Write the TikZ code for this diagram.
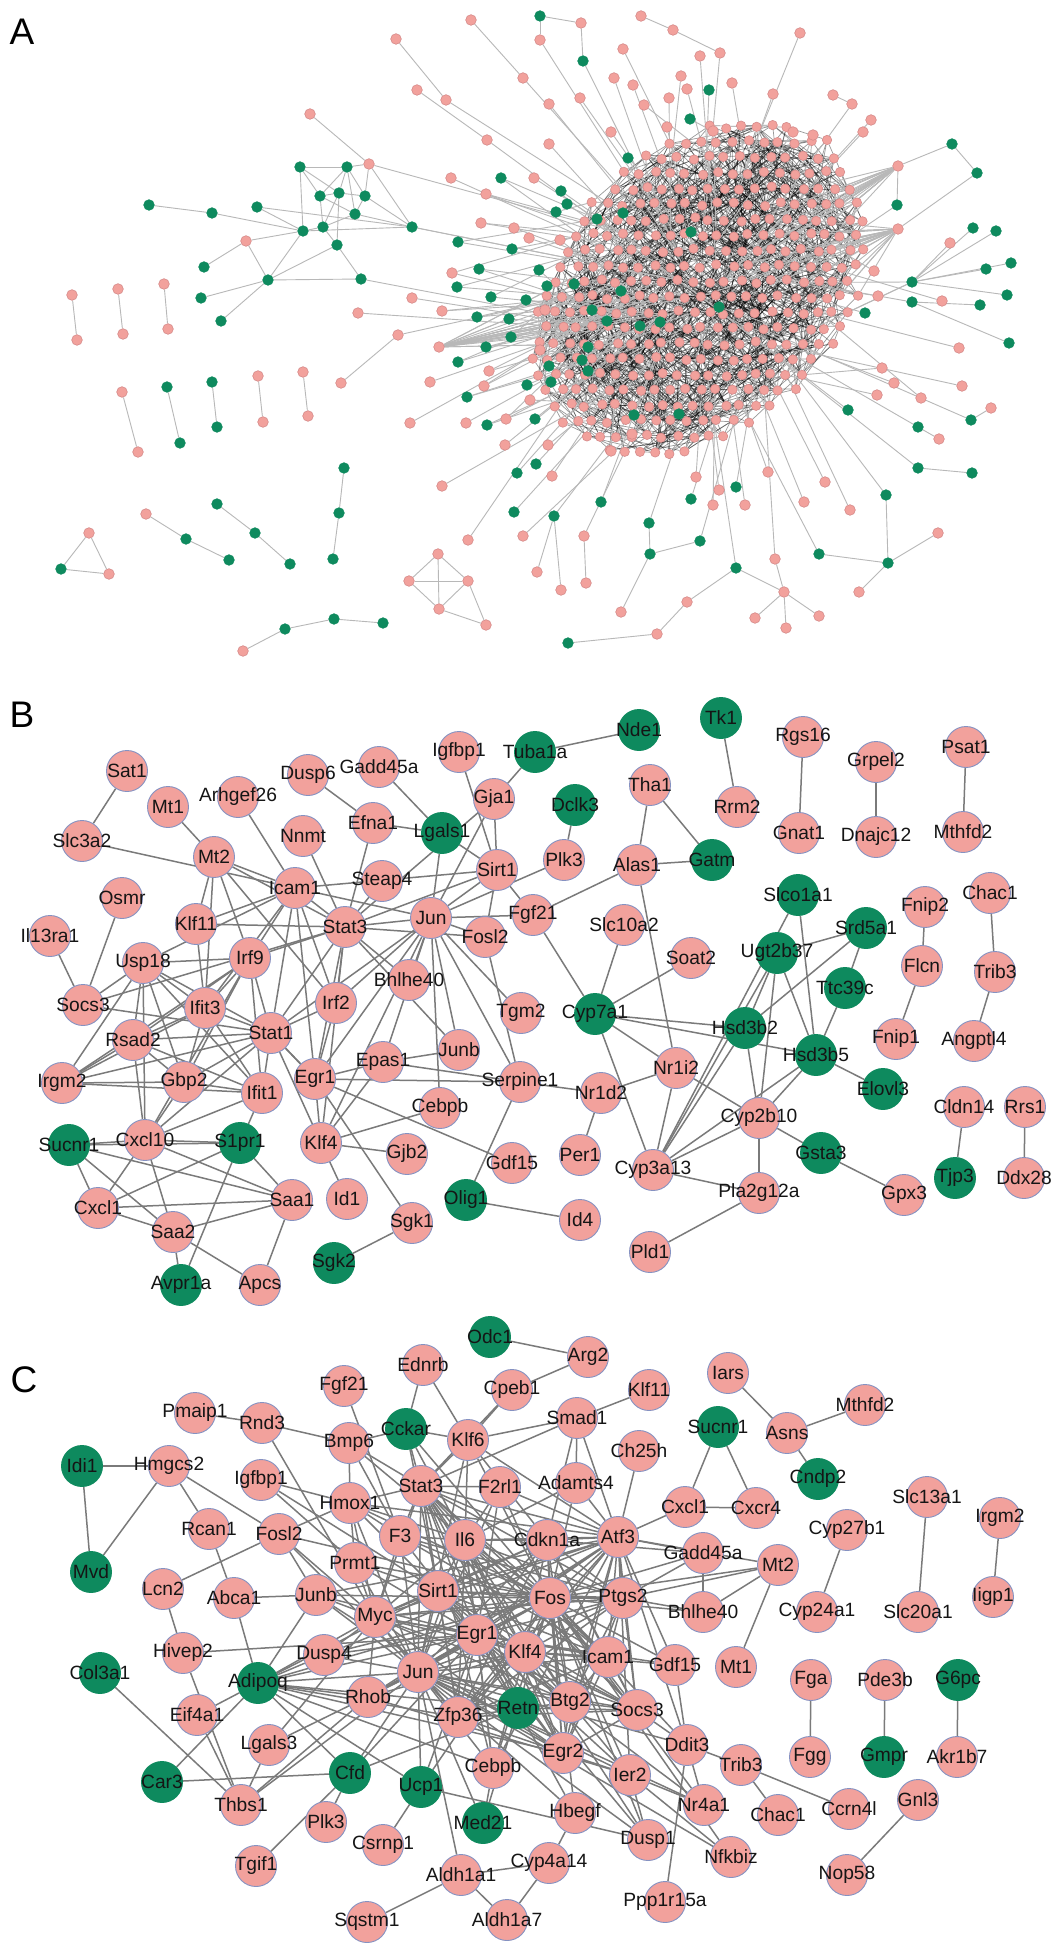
\documentclass[tikz,border=0pt]{standalone}
\usepackage{fontspec}
\setmainfont{Liberation Sans}
\usetikzlibrary{backgrounds}
\makeatletter
\newcommand\IfNodeX[3]{\pgfutil@ifundefined{pgf@sh@ns@#1}{#3}{#2}}
\makeatother
\definecolor{pinkc}{HTML}{F2A19C}
\definecolor{rimc}{HTML}{8592C2}
\definecolor{greenc}{HTML}{0E8A5E}
\definecolor{edgec}{HTML}{7A7A7A}
\definecolor{labc}{HTML}{151515}
\definecolor{aedgec}{HTML}{B8B8B8}
\definecolor{arimc}{HTML}{D58A8A}
\begin{document}
\begin{tikzpicture}[x=0.5pt,y=-0.5pt,
 bp/.style={circle,fill=pinkc,draw=rimc,line width=0.45pt,minimum size=20.5pt,inner sep=0pt},
 bg/.style={circle,fill=greenc,draw=greenc,line width=0.45pt,minimum size=20.5pt,inner sep=0pt},
 every label/.style={font=\fontsize{9.6}{11}\selectfont,text=labc,inner sep=0pt},
 bedge/.style={draw=edgec,line width=0.75pt},
 apk/.style={circle,fill=pinkc,draw=arimc,line width=0.3pt,minimum size=5.3pt,inner sep=0pt},
 kpk/.style={apk,minimum size=4.7pt},
 agr/.style={circle,fill=greenc,draw=greenc,line width=0.3pt,minimum size=5.3pt,inner sep=0pt},
 aedge/.style={draw=aedgec,line width=0.45pt},
 cedge/.style={draw=black,line width=0.35pt,opacity=0.4},
 paneltitle/.style={font=\fontsize{18.5}{20}\selectfont,text=black}]
\pgfmathsetseed{7}
\useasboundingbox (0,0) rectangle (1063,1957);
\begin{pgfonlayer}{background}
\fill[white] (0,0) rectangle (1063,1957);
\end{pgfonlayer}
% ---------------- titles
\node[paneltitle] (tA) at (22,32) {A};
\node[paneltitle] (tB) at (22,715) {B};
\node[paneltitle] (tC) at (24,1380) {C};
% ---------------- panel A core
\foreach \gy in {0,...,28}{\foreach \gx in {0,...,28}{
  \pgfmathsetmacro\px{500+\gx*15.5+7.75*mod(\gy,2)}
  \pgfmathsetmacro\py{80+\gy*15.5}
  \pgfmathsetmacro\uu{((\px-700)-(\py-290))/276}
  \pgfmathsetmacro\vv{((\px-700)+(\py-290))/198}
  \pgfmathtruncatemacro\ins{\uu*\uu+\vv*\vv<1 ? 1 : 0}
  \ifnum\ins=1
    \node[kpk] (k-\gx-\gy) at (\px+rand*2,\py+rand*2) {};
  \fi
}}
\begin{pgfonlayer}{background}
\foreach \gy in {0,...,28}{\foreach \gx in {0,...,28}{
  \IfNodeX{k-\gx-\gy}{%
    \foreach \r in {1,...,8}{%
      \pgfmathtruncatemacro\tx{\gx+random(0,10)-5}%
      \pgfmathtruncatemacro\ty{\gy+random(0,10)-5}%
      \IfNodeX{k-\tx-\ty}{\draw[cedge] (k-\gx-\gy) -- (k-\tx-\ty);}{}%
    }%
  }{}%
}}
\end{pgfonlayer}
% ---------------- panel A periphery
\foreach \n/\x/\y/\s/\nc in {
a1/471/20/apk/0, a2/396/39/apk/0, a3/523/78/apk/1, a4/417/90/apk/0, a5/446/100/apk/1, a6/487/140/apk/1, a7/310/114/apk/0, a8/369/164/apk/1,
g1/300/167/agr/0, g2/347/167/agr/0, g3/320/196/agr/0, g4/339/193/agr/0, g5/365/196/agr/0, g6/355/214/agr/0, g7/323/227/agr/0, g8/303/231/agr/0, g9/337/245/agr/0, g10/257/207/agr/0, g11/149/205/agr/0, g12/212/213/agr/0, g13/412/227/agr/2, g14/361/279/agr/1, g15/268/280/agr/0, g16/204/267/agr/0, g17/201/298/agr/0, g18/221/321/agr/0, a9/246/241/apk/0,
a10/72/295/apk/0, a11/77/340/apk/0, a12/118/289/apk/0, a13/123/334/apk/0, a14/164/284/apk/0, a15/168/329/apk/0, a16/122/392/apk/0, a17/138/452/apk/0, g19/167/387/agr/0, g20/180/443/agr/0, g21/212/382/agr/0, g22/217/427/agr/0, a18/258/376/apk/0, a19/263/422/apk/0, a20/303/372/apk/0, a21/308/416/apk/0, a22/341/383/apk/0, a23/398/335/apk/1, a24/358/313/apk/1,
g23/344/468/agr/0, g24/339/513/agr/0, g25/333/559/agr/0, a25/146/514/apk/0, g26/186/539/agr/0, g27/229/560/agr/0, g28/217/504/agr/0, g29/255/533/agr/0, g30/290/564/agr/0, a26/89/533/apk/0, g31/61/569/agr/0, a27/109/574/apk/0, a28/243/651/apk/0, g32/285/629/agr/0, g33/334/619/agr/0, g34/383/623/agr/0,
a29/438/554/apk/0, a30/409/581/apk/0, a31/468/581/apk/0, a32/439/609/apk/0, a33/486/625/apk/0,
a34/442/486/apk/1, a35/410/423/apk/1, a36/430/382/apk/1, a37/412/298/apk/1, a38/442/311/apk/2, a39/439/347/apk/25, a40/452/273/apk/2, a41/451/178/apk/1, a42/481/223/apk/2, a43/486/194/apk/2,
g35/501/178/agr/2, g36/458/242/agr/2, g37/479/269/agr/2, g38/457/287/agr/2, g39/491/297/agr/2, g40/477/317/agr/2, g41/486/347/agr/2, g42/458/362/agr/2, g43/467/397/agr/2, a44/489/371/apk/2, a45/484/386/apk/2, a46/466/423/apk/1, g44/487/425/agr/2, a47/506/419/apk/2, g45/517/473/agr/1, g46/514/512/agr/1, a48/468/540/apk/1, a49/523/536/apk/1,
g47/540/16/agr/0, a50/581/23/apk/0, a51/540/40/apk/1, a52/641/16/apk/0, a53/673/30/apk/0, g48/583/61/agr/1, a54/700/56/apk/1, a55/720/53/apk/1, a56/800/33/apk/1, a57/623/49/apk/1, a58/614/78/apk/1, a59/633/85/apk/1, a60/681/76/apk/1, a61/687/89/apk/1, g49/709/90/agr/1, a62/732/83/apk/1, a63/773/94/apk/1, a64/833/95/apk/0, a65/852/104/apk/1, a66/871/120/apk/1, a67/863/132/apk/1, a68/813/135/apk/1, a69/793/132/apk/1, a70/549/104/apk/1, a71/580/98/apk/1, a72/644/105/apk/1, a73/669/98/apk/1, g50/690/119/agr/1, a74/667/127/apk/1, a75/713/131/apk/1, a76/549/144/apk/1, a77/611/132/apk/1, a78/534/178/apk/1, g51/628/158/agr/1,
a79/898/166/apk/25, a80/898/229/apk/25, g52/952/144/agr/0, g53/977/173/agr/0, g54/897/205/agr/1, g55/973/228/agr/0, g56/996/231/agr/0, g57/986/269/agr/0, g58/912/282/agr/3, g59/1011/263/agr/0, g60/1007/295/agr/0, g61/912/302/agr/1, g62/980/305/agr/0, a81/942/301/apk/1, a82/950/243/apk/0, a83/874/271/apk/1, a84/878/296/apk/1, g63/865/313/agr/1, g64/1009/343/agr/0, a85/959/348/apk/1, a86/962/386/apk/1, a87/991/408/apk/0, g65/971/420/agr/1, g66/918/427/agr/1, a88/939/439/apk/0, a89/921/398/apk/1, g67/972/473/agr/0, g68/918/468/agr/1, a90/894/383/apk/1, a91/882/368/apk/1, a92/877/395/apk/1, g69/848/410/agr/1, g70/886/495/agr/1, g71/888/563/agr/0, a93/938/533/apk/0, g72/819/554/agr/1, a94/859/592/apk/0, a95/850/510/apk/1, a96/804/502/apk/1, a97/825/482/apk/1, a98/775/559/apk/1, a99/784/592/apk/0, a100/819/616/apk/0, a101/786/628/apk/0, a102/755/618/apk/0, g73/736/568/agr/1, a103/687/602/apk/0, a104/657/634/apk/0, g74/700/541/agr/1, g75/650/554/agr/0, g76/649/523/agr/1, a105/621/612/apk/0, g77/568/643/agr/0, a106/586/583/apk/0, a107/561/590/apk/0, a108/584/536/apk/1, a109/537/572/apk/0, g78/554/516/agr/1, g79/601/502/agr/1, g80/536/464/agr/1, a110/552/476/apk/1, a111/611/451/apk/1, a112/632/434/apk/1, g81/634/415/agr/1, g82/691/499/agr/1, a113/713/505/apk/1, a114/745/505/apk/1, g83/736/487/agr/1, a115/696/477/apk/1, a116/719/490/apk/1, a117/768/472/apk/1, g84/535/419/agr/1, g87/527/385/agr/1, g88/551/382/agr/1,
a122/514/228/apk/1, a123/529/238/apk/1, a126/540/350/apk/1, a127/530/400/apk/1, a128/505/445/apk/1, a129/548/445/apk/1, a130/560/240/apk/1, a131/545/310/apk/1,
g89/691/232/agr/1, g90/621/291/agr/1, g91/607/321/agr/1, g92/640/326/agr/1, g93/660/322/agr/1, g94/719/307/agr/1, g95/592/310/agr/1, g96/588/347/agr/1, g97/582/360/agr/1, g98/588/371/agr/1, g99/574/284/agr/1, g100/561/191/agr/1, g101/567/204/agr/1, g102/556/212/agr/1, g103/597/219/agr/1, g104/623/213/agr/1, g105/539/270/agr/1, g106/547/286/agr/1, g107/512/249/agr/1, g109/526/300/agr/1, g111/509/319/agr/1, g112/511/337/agr/1, g113/549/366/agr/1, g115/679/414/agr/1}{
  \node[\s] (\n) at (\x,\y) {};
  \ifnum\nc>0
    \begin{pgfonlayer}{background}
    \foreach \r in {1,...,\nc}{%
      \pgfmathsetmacro\ang{atan2(\y-290,\x-700)+rand*22}%
      \pgfmathsetmacro\rad{15+rnd*140}%
      \pgfmathtruncatemacro\qx{round((200+\rad*cos(\ang))/15.5)}%
      \pgfmathtruncatemacro\qy{round((210+\rad*sin(\ang))/15.5)}%
      \IfNodeX{k-\qx-\qy}{\draw[aedge] (\n) -- (k-\qx-\qy);}{\draw[aedge] (\n) -- (k-13-14);}%
    }%
    \end{pgfonlayer}
  \fi
}
\begin{pgfonlayer}{background}
\foreach \u/\v in {a1/a3, a2/a5, a4/a6, a7/a8, g1/g2, g1/g3, g1/g4, g2/g3, g2/g4, g2/g5, g2/g6, g2/a8, g3/g4, g3/g7, g3/g6, g4/g5, g4/g7, g4/g9, g5/g6, g5/a8, g6/g7, g6/g13, g7/g9, g7/g8, g8/g1, g8/g10, g8/a9, g8/g15, g8/g13, g8/g12, g9/g14, g9/g15, g11/g12, g10/g13, a9/g16, a9/g15, g15/g17, g15/g18, g15/g14, g13/a8, g13/g5, a10/a11, a12/a13, a14/a15, a16/a17, g19/g20, g21/g22, a18/a19, a20/a21, a22/a23, g23/g24, g24/g25, a25/g26, g26/g27, g28/g29, g29/g30, a26/g31, a26/a27, g31/a27, a28/g32, g32/g33, g33/g34, a29/a30, a29/a31, a29/a32, a30/a31, a30/a32, a31/a32, a31/a33, a32/a33, g47/a50, g47/a51, a50/g48, a52/a53, a53/a55, a64/a65, g52/a79, g52/g53, g53/a80, g54/a79, g55/g58, g56/g58, g57/g58, g59/g58, g60/g58, g61/g62, a82/g58, g64/g61, a87/g65, g66/a88, g67/g68, g70/g71, g71/a93, g71/g72, g71/a94, a99/a98, a99/a100, a99/a101, a99/a102, a99/g73, a103/g73, a103/a104, a104/g77, g75/g76, g75/g74, a105/g75, a106/a108, a107/g78, a109/g78}
  \draw[aedge] (\u) -- (\v);
\end{pgfonlayer}
% ---------------- panel B nodes
\foreach \t/\x/\y in {Sat1/127/771, Mt1/168/807, Arhgef26/238/797, Slc3a2/82/841, Mt2/214/857, Dusp6/308/775, Gadd45a/379/767, Igfbp1/459/752, Gja1/494/799, Efna1/373/823, Nnmt/303/836, Sirt1/497/870, Steap4/382/881, Icam1/295/888, Osmr/122/898, Klf11/196/924, Stat3/345/927, Jun/431/918, Fosl2/485/937, Fgf21/533/915, Il13ra1/50/936, Usp18/143/963, Irf9/250/958, Bhlhe40/409/980, Socs3/83/1005, Ifit3/205/1008, Irf2/336/1003, Tgm2/521/1013, Rsad2/133/1040, Stat1/271/1033, Junb/459/1050, Epas1/383/1062, Irgm2/62/1083, Gbp2/184/1082, Ifit1/262/1093, Egr1/315/1079, Serpine1/520/1082, Cebpb/440/1108, Cxcl10/145/1140, Klf4/321/1143, Gjb2/407/1154, Gdf15/512/1163, Cxcl1/98/1208, Saa1/292/1200, Id1/347/1199, Saa2/173/1232, Sgk1/412/1223, Apcs/260/1285, Rgs16/803/737, Psat1/966/747, Grpel2/876/762, Tha1/650/785, Rrm2/737/807, Gnat1/799/833, Dnajc12/876/837, Mthfd2/963/832, Plk3/564/860, Alas1/637/865, Chac1/990/893, Fnip2/925/907, Slc10a2/624/925, Soat2/691/958, Flcn/922/966, Trib3/995/972, Fnip1/896/1039, Angptl4/974/1041, Nr1i2/676/1068, Nr1d2/601/1093, Cldn14/964/1107, Rrs1/1025/1107, Cyp2b10/759/1118, Per1/580/1155, Cyp3a13/653/1170, Ddx28/1024/1178, Pla2g12a/759/1193, Gpx3/904/1195, Id4/580/1220, Pld1/650/1252}
  \node[bp,label={center:\t}] (b\t) at (\x,\y) {};
\foreach \t/\x/\y in {Tuba1a/535/752, Lgals1/442/833, Nde1/639/730, Tk1/721/718, Dclk3/575/805, Gatm/712/860, Slco1a1/798/895, Srd5a1/866/928, Ugt2b37/777/953, Ttc39c/845/988, Cyp7a1/595/1014, Hsd3b2/745/1028, Hsd3b5/816/1055, Elovl3/883/1089, Gsta3/821/1153, Tjp3/955/1178, Sucnr1/69/1145, S1pr1/240/1143, Olig1/466/1200, Sgk2/334/1263, Avpr1a/181/1285}
  \node[bg,label={center:\t}] (b\t) at (\x,\y) {};
\begin{pgfonlayer}{background}
\foreach \u/\v in {Sat1/Slc3a2, Slc3a2/Icam1, Mt1/Mt2, Arhgef26/Icam1, Dusp6/Efna1, Efna1/Lgals1, Gadd45a/Lgals1, Igfbp1/Sirt1, Tuba1a/Gja1, Tuba1a/Nde1, Gja1/Sirt1, Gja1/Jun, Gja1/Stat3, Lgals1/Sirt1, Lgals1/Jun, Nnmt/Stat3, Efna1/Stat3, Steap4/Stat3, Icam1/Sirt1, Mt2/Icam1, Mt2/Stat3, Mt2/Irf9, Mt2/Klf11, Mt2/Ifit3, Mt2/Irf2, Icam1/Klf11, Icam1/Irf9, Icam1/Stat3, Icam1/Jun, Icam1/Stat1, Icam1/Ifit3, Icam1/Irf2, Icam1/Usp18, Icam1/Egr1, Osmr/Socs3, Il13ra1/Socs3, Klf11/Stat3, Klf11/Ifit3, Stat3/Jun, Stat3/Sirt1, Stat3/Irf9, Stat3/Stat1, Stat3/Irf2, Stat3/Egr1, Stat3/Socs3, Stat3/Bhlhe40, Stat3/Junb, Stat3/Fosl2, Stat3/Klf4, Jun/Sirt1, Jun/Fosl2, Jun/Bhlhe40, Jun/Egr1, Jun/Epas1, Jun/Junb, Jun/Tgm2, Jun/Cebpb, Jun/Irf2, Jun/Klf4, Jun/Serpine1, Jun/Stat1, Jun/Fgf21, Jun/Plk3, Sirt1/Fgf21, Sirt1/Fosl2, Fgf21/Alas1, Fgf21/Cyp7a1, Fosl2/Serpine1, Plk3/Dclk3, Alas1/Tha1, Alas1/Gatm, Tha1/Gatm, Alas1/Nr1i2, Tk1/Rrm2, Rgs16/Gnat1, Grpel2/Dnajc12, Psat1/Mthfd2, Chac1/Trib3, Fnip2/Flcn, Flcn/Fnip1, Trib3/Angptl4, Cldn14/Tjp3, Rrs1/Ddx28, Slc10a2/Cyp7a1, Soat2/Cyp7a1, Slco1a1/Cyp3a13, Slco1a1/Hsd3b5, Srd5a1/Ugt2b37, Srd5a1/Hsd3b2, Srd5a1/Ttc39c, Ttc39c/Hsd3b5, Ugt2b37/Hsd3b2, Ugt2b37/Cyp3a13, Ugt2b37/Cyp2b10, Ugt2b37/Hsd3b5, Cyp7a1/Hsd3b2, Cyp7a1/Hsd3b5, Cyp7a1/Nr1i2, Cyp7a1/Cyp3a13, Nr1i2/Nr1d2, Nr1i2/Cyp2b10, Nr1i2/Cyp3a13, Nr1d2/Per1, Nr1d2/Serpine1, Hsd3b2/Cyp2b10, Hsd3b2/Cyp3a13, Hsd3b5/Elovl3, Hsd3b5/Cyp2b10, Hsd3b5/Cyp3a13, Cyp2b10/Cyp3a13, Cyp2b10/Gsta3, Cyp2b10/Pla2g12a, Cyp3a13/Pla2g12a, Gsta3/Gpx3, Pla2g12a/Pld1, Olig1/Id4, Olig1/Serpine1, Sgk1/Sgk2, Sgk1/Egr1, Klf4/Gjb2, Klf4/Cebpb, Klf4/Id1, Klf4/Egr1, Klf4/Stat1, Klf4/Epas1, Egr1/Serpine1, Egr1/Gdf15, Egr1/Stat1, Egr1/Epas1, Epas1/Junb, Epas1/Serpine1, Sucnr1/Cxcl10, Sucnr1/S1pr1, Sucnr1/Cxcl1, Sucnr1/Saa2, Sucnr1/Saa1, Cxcl10/S1pr1, Cxcl10/Cxcl1, Cxcl10/Saa2, Cxcl10/Saa1, Cxcl10/Stat1, Cxcl10/Gbp2, Cxcl10/Ifit1, Cxcl10/Rsad2, Cxcl10/Irf9, Cxcl10/Usp18, S1pr1/Cxcl1, S1pr1/Saa1, S1pr1/Ifit1, S1pr1/Avpr1a, Cxcl1/Saa1, Cxcl1/Saa2, Saa2/Saa1, Saa2/Avpr1a, Saa2/Apcs, Saa1/Apcs, Usp18/Irf9, Usp18/Rsad2, Usp18/Gbp2, Usp18/Ifit3, Usp18/Stat1, Usp18/Ifit1, Usp18/Irgm2, Usp18/Socs3, Irf9/Stat1, Irf9/Ifit3, Irf9/Ifit1, Irf9/Gbp2, Irf9/Rsad2, Irf9/Irgm2, Ifit3/Stat1, Ifit3/Rsad2, Ifit3/Gbp2, Ifit3/Ifit1, Ifit3/Irgm2, Rsad2/Stat1, Rsad2/Gbp2, Rsad2/Ifit1, Rsad2/Irgm2, Irgm2/Gbp2, Irgm2/Stat1, Irgm2/Ifit1, Gbp2/Stat1, Gbp2/Ifit1, Stat1/Ifit1, Stat1/Irf2, Stat1/Egr1, Socs3/Stat1, Irf2/Egr1}
  \draw[bedge] (b\u) -- (b\v);
\end{pgfonlayer}
% ---------------- panel C nodes
\foreach \t/\x/\y in {Ednrb/423/1365, Fgf21/344/1386, Cpeb1/512/1390, Pmaip1/195/1413, Rnd3/262/1423, Bmp6/349/1443, Klf6/468/1440, Hmgcs2/169/1466, Igfbp1/261/1480, Stat3/421/1486, F2rl1/500/1487, Hmox1/350/1503, Rcan1/209/1529, Fosl2/279/1534, F3/400/1536, Il6/465/1540, Prmt1/355/1563, Lcn2/163/1589, Abca1/234/1598, Junb/316/1595, Sirt1/438/1591, Myc/375/1617, Egr1/477/1635, Klf4/525/1652, Hivep2/183/1653, Dusp4/324/1655, Jun/418/1672, Rhob/368/1697, Eif4a1/197/1715, Zfp36/458/1717, Lgals3/269/1745, Cebpb/493/1768, Thbs1/241/1805, Plk3/326/1822, Csrnp1/383/1845, Tgif1/256/1866, Aldh1a1/461/1875, Sqstm1/367/1922, Aldh1a7/507/1920, Cyp4a14/549/1863, Arg2/588/1357, Iars/728/1373, Klf11/649/1390, Mthfd2/865/1405, Smad1/577/1418, Asns/787/1433, Ch25h/639/1451, Adamts4/576/1483, Slc13a1/927/1497, Cxcl1/685/1507, Cxcr4/756/1508, Irgm2/1000/1518, Cyp27b1/847/1530, Cdkn1a/547/1540, Atf3/618/1537, Gadd45a/703/1553, Mt2/778/1565, Fos/550/1598, Ptgs2/623/1598, Bhlhe40/703/1612, Cyp24a1/817/1612, Slc20a1/918/1612, Iigp1/993/1597, Icam1/608/1657, Gdf15/675/1665, Mt1/736/1667, Fga/811/1680, Pde3b/885/1680, Btg2/570/1702, Socs3/637/1710, Ddit3/687/1745, Egr2/563/1753, Trib3/741/1765, Fgg/810/1757, Akr1b7/957/1757, Ier2/630/1775, Gnl3/918/1800, Nr4a1/704/1805, Chac1/778/1815, Ccrn4l/849/1809, Hbegf/575/1813, Dusp1/648/1840, Nfkbiz/731/1857, Nop58/847/1875, Ppp1r15a/665/1902}
  \node[bp,label={center:\t}] (c\t) at (\x,\y) {};
\foreach \t/\x/\y in {Odc1/490/1337, Cckar/406/1429, Idi1/82/1466, Mvd/91/1572, Col3a1/100/1673, Adipoq/258/1683, Retn/518/1708, Car3/162/1782, Cfd/350/1773, Ucp1/421/1787, Med21/483/1823, Sucnr1/718/1427, Cndp2/818/1479, G6pc/958/1680, Gmpr/884/1757}
  \node[bg,label={center:\t}] (c\t) at (\x,\y) {};
\begin{pgfonlayer}{background}
\foreach \a [count=\i] in {Il6,Fos,Jun,Egr1,Myc,Atf3,Sirt1,Stat3,Ptgs2,Cdkn1a,Klf4,Icam1,Socs3,Btg2,Zfp36,Egr2}{
  \foreach \b [count=\j] in {Il6,Fos,Jun,Egr1,Myc,Atf3,Sirt1,Stat3,Ptgs2,Cdkn1a,Klf4,Icam1,Socs3,Btg2,Zfp36,Egr2}{
    \ifnum\j>\i \draw[bedge] (c\a) -- (c\b); \fi
  }
}
\foreach \u/\v in {Odc1/Arg2, Ednrb/Cckar, Ednrb/Klf6, Fgf21/F3, Cpeb1/Klf6, Cpeb1/Stat3, Arg2/Cpeb1, Pmaip1/Rnd3, Rnd3/Bmp6, Rnd3/Myc, Cckar/Bmp6, Cckar/Klf6, Cckar/Stat3, Cckar/Fos, Cckar/Sirt1, Cckar/Il6, Bmp6/Hmox1, Bmp6/Stat3, Bmp6/Il6, Bmp6/F3, Klf6/Stat3, Klf6/Smad1, Klf6/Il6, Klf6/Fos, Klf6/Cdkn1a, Klf6/Jun, Klf6/Atf3, Idi1/Hmgcs2, Idi1/Mvd, Hmgcs2/Mvd, Hmgcs2/Rcan1, Hmgcs2/Fosl2, Igfbp1/Hmox1, Igfbp1/Prmt1, Igfbp1/Sirt1, Rcan1/Abca1, Fosl2/Lcn2, Fosl2/Hmox1, Fosl2/Junb, Fosl2/Jun, Fosl2/Fos, Fosl2/Myc, Abca1/Junb, Abca1/Adipoq, Lcn2/Hivep2, Hivep2/Egr1, Hivep2/Thbs1, Col3a1/Thbs1, Adipoq/Dusp4, Adipoq/Jun, Adipoq/Egr1, Adipoq/Myc, Adipoq/Rhob, Adipoq/Eif4a1, Adipoq/Car3, Adipoq/Cfd, Adipoq/Ucp1, Adipoq/Retn, Adipoq/Zfp36, Adipoq/Fos, Adipoq/Junb, Adipoq/Cebpb, Adipoq/Sirt1, Adipoq/Egr2, Eif4a1/Thbs1, Lgals3/Thbs1, Lgals3/Jun, Lgals3/Myc, Car3/Cfd, Thbs1/Jun, Thbs1/Rhob, Cfd/Tgif1, Cfd/Plk3, Cfd/Jun, Cfd/Egr1, Cfd/Retn, Ucp1/Csrnp1, Ucp1/Jun, Ucp1/Fos, Ucp1/Dusp1, Ucp1/Egr1, Med21/Cebpb, Med21/Jun, Med21/Retn, Aldh1a1/Sqstm1, Aldh1a1/Aldh1a7, Aldh1a1/Cyp4a14, Aldh1a7/Cyp4a14, Aldh1a1/Jun, Cyp4a14/Hbegf, Klf11/Smad1, Smad1/Adamts4, Smad1/Atf3, Smad1/Cdkn1a, Smad1/Stat3, Ch25h/Atf3, Adamts4/Atf3, Adamts4/Fos, Adamts4/Il6, Iars/Asns, Asns/Mthfd2, Asns/Cndp2, Sucnr1/Cxcl1, Sucnr1/Cxcr4, Cxcl1/Cxcr4, Cxcl1/Atf3, Cyp27b1/Cyp24a1, Slc13a1/Slc20a1, Irgm2/Iigp1, Mt2/Ptgs2, Mt2/Atf3, Mt2/Bhlhe40, Mt2/Mt1, Mt2/Fos, Gadd45a/Atf3, Gadd45a/Fos, Gadd45a/Bhlhe40, Gadd45a/Ptgs2, Gadd45a/Cdkn1a, Bhlhe40/Ptgs2, Bhlhe40/Fos, Fga/Fgg, Pde3b/Gmpr, G6pc/Akr1b7, Gnl3/Nop58, Ddit3/Trib3, Trib3/Chac1, Trib3/Ccrn4l, Ddit3/Gdf15, Ddit3/Atf3, Ddit3/Fos, Ddit3/Socs3, Ddit3/Ppp1r15a, Ddit3/Nr4a1, Ddit3/Jun, Nr4a1/Fos, Nr4a1/Egr1, Nr4a1/Ier2, Nr4a1/Jun, Dusp1/Fos, Dusp1/Jun, Dusp1/Egr1, Dusp1/Ier2, Dusp1/Klf4, Nfkbiz/Fos, Nfkbiz/Ier2, Nfkbiz/Jun, Hbegf/Egr1, Hbegf/Fos, Hbegf/Jun, Gdf15/Atf3, Gdf15/Fos, Gdf15/Egr1, F3/Il6, F3/Fos, F3/Jun, F3/Egr1, F3/Stat3, F3/Myc, F3/Ptgs2, F3/Icam1, F3/Hmox1, Hmox1/Stat3, Hmox1/Il6, Hmox1/Fos, Hmox1/Jun, Hmox1/Myc, Hmox1/Sirt1, Hmox1/Prmt1, Hmox1/Atf3, Prmt1/Myc, Prmt1/Sirt1, Prmt1/Jun, Prmt1/Fos, Prmt1/Egr1, Rhob/Jun, Rhob/Fos, Rhob/Egr1, Rhob/Myc, Rhob/Atf3, Rhob/Ier2, Rhob/Klf4, Retn/Jun, Retn/Fos, Retn/Egr1, Retn/Il6, Retn/Sirt1, Retn/Socs3, Retn/Stat3, Cebpb/Jun, Cebpb/Fos, Cebpb/Egr1, Cebpb/Stat3, Cebpb/Klf4, Cebpb/Atf3, Cebpb/Il6, Ier2/Fos, Ier2/Jun, Ier2/Egr1, Ier2/Egr2, Ier2/Btg2, Ier2/Atf3, Gdf15/Klf4, F2rl1/Fos, F2rl1/Il6, F2rl1/Stat3, F2rl1/Egr1, F2rl1/Jun, F2rl1/Atf3, Dusp4/Jun, Dusp4/Fos, Dusp4/Egr1, Dusp4/Myc, Dusp4/Atf3, Junb/Fos, Junb/Jun, Junb/Egr1, Junb/Myc, Junb/Atf3, Junb/Egr2}
  \draw[bedge] (c\u) -- (c\v);
\end{pgfonlayer}
\end{tikzpicture}
\end{document}
